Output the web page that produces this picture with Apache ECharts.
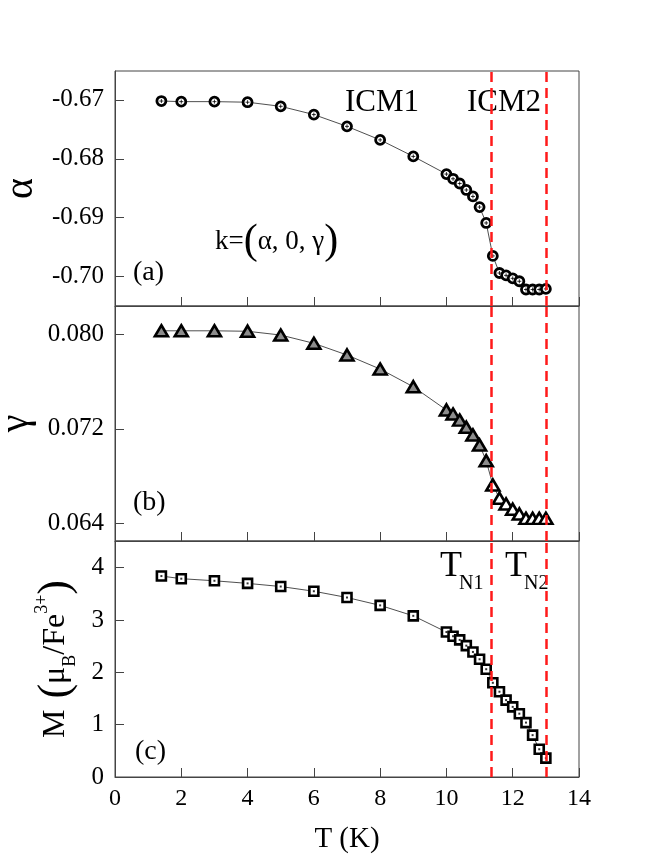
<!DOCTYPE html>
<html>
<head>
<meta charset="utf-8">
<title>k = (alpha, 0, gamma) and M vs T</title>
<script src="https://cdn.jsdelivr.net/npm/echarts@6/dist/echarts.min.js"></script>
<style>
    html, body { margin: 0; padding: 0; background: #fff; }
    #main { width: 664px; height: 860px; }
</style>
</head>
<body>
<div id="main"></div>
<script>
    // temperatures (K)
    var temps = [1.4, 2, 3, 4, 5, 6, 7, 8, 9, 10, 10.2, 10.4, 10.6, 10.8, 11.0, 11.2,
        11.4, 11.6, 11.8, 12.0, 12.2, 12.4, 12.6, 12.8, 13.0];
    // panel (a): alpha
    var alpha = [-0.6702, -0.6703, -0.6703, -0.6704, -0.6711, -0.6725, -0.6745, -0.6768, -0.6796,
        -0.6826, -0.6834, -0.6842, -0.6853, -0.6864, -0.6882, -0.6909,
        -0.6965, -0.6994, -0.6998, -0.7003, -0.7008, -0.7022, -0.7022, -0.7022, -0.7021];
    // panel (b): gamma
    var gamma = [0.08030, 0.08030, 0.08030, 0.08026, 0.07994, 0.07924, 0.07825, 0.07706, 0.07556,
        0.07359, 0.07325, 0.07274, 0.07213, 0.07148, 0.07063, 0.06930,
        0.06724, 0.06612, 0.06563, 0.06519, 0.06479, 0.06442, 0.06442, 0.06442, 0.06442];
    // panel (c): ordered moment
    var moment = [3.84, 3.79, 3.75, 3.70, 3.64, 3.55, 3.43, 3.28, 3.08,
        2.77, 2.69, 2.62, 2.51, 2.39, 2.25, 2.06,
        1.80, 1.63, 1.47, 1.34, 1.21, 1.04, 0.80, 0.53, 0.36];

    var tN1 = 11.35, tN2 = 13.0;
    var alphaTicks = [-0.70, -0.69, -0.68, -0.67];
    var gammaTicks = [0.064, 0.072, 0.080];
    var momentTicks = [0, 1, 2, 3, 4];

    var serif = 'Liberation Serif';
    var axisColor = '#444';

    function pairs(ys) {
        return temps.map(function (t, i) { return [t, ys[i]]; });
    }

    var transitions = {
        silent: true,
        symbol: ['none', 'none'],
        label: { show: false },
        lineStyle: { color: '#ff1a1a', width: 2.5, type: [10, 6] },
        data: [{ xAxis: tN1 }, { xAxis: tN2 }]
    };

    function xAxis(idx, showLabels) {
        var ax = {
            type: 'value', gridIndex: idx, min: 0, max: 14, interval: 2,
            axisLine: { lineStyle: { color: axisColor } },
            axisTick: { inside: true, length: 9, lineStyle: { color: axisColor } },
            axisLabel: { show: showLabels, fontFamily: serif, fontSize: 24, color: '#000', margin: 10 },
            splitLine: { show: false }
        };
        if (showLabels) {
            ax.name = 'T (K)';
            ax.nameLocation = 'middle';
            ax.nameGap = 48;
            ax.nameTextStyle = { fontFamily: serif, fontSize: 29, color: '#000' };
        }
        return ax;
    }

    function yAxis(idx, lo, hi, ticks, digits, name, gap, nameStyle) {
        return {
            type: 'value', gridIndex: idx, min: lo, max: hi,
            axisLine: { lineStyle: { color: axisColor } },
            axisTick: { inside: true, length: 9, customValues: ticks, lineStyle: { color: axisColor } },
            axisLabel: {
                customValues: ticks, fontFamily: serif, fontSize: 25, color: '#000', margin: 11,
                formatter: function (v) { return v.toFixed(digits); }
            },
            splitLine: { show: false },
            name: name, nameLocation: 'middle', nameRotate: 90, nameGap: gap,
            nameTextStyle: nameStyle
        };
    }

    function grid(top, height) {
        return {
            left: 115, right: 85, top: top, height: height,
            containLabel: false, outerBoundsMode: 'none',
            show: true, borderColor: axisColor, borderWidth: 1
        };
    }

    var chart = echarts.init(document.getElementById('main'));
    chart.setOption({
        animation: false,
        backgroundColor: '#fff',
        grid: [grid(71, 235), grid(306, 235), grid(541, 236)],
        xAxis: [xAxis(0, false), xAxis(1, false), xAxis(2, true)],
        yAxis: [
            yAxis(0, -0.705, -0.6651, alphaTicks, 2, 'α', 68,
                { fontFamily: serif, fontSize: 40, color: '#000' }),
            yAxis(1, 0.0625, 0.0824, gammaTicks, 3, 'γ', 60,
                { fontFamily: serif, fontSize: 40, color: '#000' }),
            yAxis(2, 0, 4.51, momentTicks, 0, '{m|M}{p| (}{m|μ}{sub|B}{m|/Fe}{sup|3+}{p|)}', 36, {
                fontFamily: serif, color: '#000',
                rich: {
                    m: { fontFamily: serif, fontSize: 32, lineHeight: 46, verticalAlign: 'middle', color: '#000' },
                    p: { fontFamily: serif, fontSize: 44, lineHeight: 46, verticalAlign: 'middle', color: '#000' },
                    sub: { fontFamily: serif, fontSize: 18, lineHeight: 18, verticalAlign: 'bottom', color: '#000' },
                    sup: { fontFamily: serif, fontSize: 18, lineHeight: 18, verticalAlign: 'top', color: '#000' }
                }
            })
        ],
        series: [
            {
                type: 'line', xAxisIndex: 0, yAxisIndex: 0, data: pairs(alpha),
                symbol: 'circle', symbolSize: 9, showAllSymbol: true,
                itemStyle: { color: '#fff', borderColor: '#000', borderWidth: 2.8 },
                lineStyle: { color: '#222', width: 0.8 },
                markLine: transitions, z: 3
            },
            {
                type: 'scatter', xAxisIndex: 0, yAxisIndex: 0, data: pairs(alpha),
                symbol: 'path://M-1,0L1,0M0,-1L0,1', symbolSize: 4,
                itemStyle: { color: 'none', borderColor: '#000', borderWidth: 1 }, z: 4
            },
            {
                type: 'line', xAxisIndex: 1, yAxisIndex: 1,
                data: temps.map(function (t, i) {
                    return { value: [t, gamma[i]], itemStyle: { color: t < tN1 ? '#8c8c8c' : '#fff' } };
                }),
                symbol: 'triangle', symbolSize: [13, 11], showAllSymbol: true,
                itemStyle: { borderColor: '#000', borderWidth: 2.6 },
                lineStyle: { color: '#222', width: 0.8 },
                markLine: transitions, z: 3
            },
            {
                type: 'line', xAxisIndex: 2, yAxisIndex: 2, data: pairs(moment),
                symbol: 'rect', symbolSize: 9, showAllSymbol: true,
                itemStyle: { color: '#fff', borderColor: '#000', borderWidth: 2.6 },
                lineStyle: { color: '#222', width: 0.8 },
                markLine: transitions, z: 3
            },
            {
                type: 'scatter', xAxisIndex: 2, yAxisIndex: 2, data: pairs(moment),
                symbol: 'rect', symbolSize: 2, itemStyle: { color: '#000' }, z: 4
            }
        ],
        graphic: [
            { type: 'text', x: 345, y: 103, style: { text: 'ICM1', fontFamily: serif, fontSize: 31, fill: '#000', verticalAlign: 'middle' } },
            { type: 'text', x: 467, y: 103, style: { text: 'ICM2', fontFamily: serif, fontSize: 31, fill: '#000', verticalAlign: 'middle' } },
            {
                type: 'text', x: 215, y: 242, style: {
                    text: '{k|k=}{p|(}{k|α, 0, γ}{p|)}', verticalAlign: 'middle', fill: '#000',
                    rich: {
                        k: { fontFamily: serif, fontSize: 27, lineHeight: 44, verticalAlign: 'middle', fill: '#000' },
                        p: { fontFamily: serif, fontSize: 42, lineHeight: 44, verticalAlign: 'middle', fill: '#000' }
                    }
                }
            },
            { type: 'text', x: 133, y: 273, style: { text: '(a)', fontFamily: serif, fontSize: 28, fill: '#000', verticalAlign: 'middle' } },
            { type: 'text', x: 133, y: 503, style: { text: '(b)', fontFamily: serif, fontSize: 28, fill: '#000', verticalAlign: 'middle' } },
            { type: 'text', x: 135, y: 752, style: { text: '(c)', fontFamily: serif, fontSize: 28, fill: '#000', verticalAlign: 'middle' } },
            { type: 'text', x: 440, y: 567, style: { text: 'T', fontFamily: serif, fontSize: 36, fill: '#000', verticalAlign: 'middle' } },
            { type: 'text', x: 459, y: 584, style: { text: 'N1', fontFamily: serif, fontSize: 20, fill: '#000', verticalAlign: 'middle' } },
            { type: 'text', x: 505, y: 567, style: { text: 'T', fontFamily: serif, fontSize: 36, fill: '#000', verticalAlign: 'middle' } },
            { type: 'text', x: 524, y: 584, style: { text: 'N2', fontFamily: serif, fontSize: 20, fill: '#000', verticalAlign: 'middle' } }
        ]
    });
</script>
</body>
</html>
